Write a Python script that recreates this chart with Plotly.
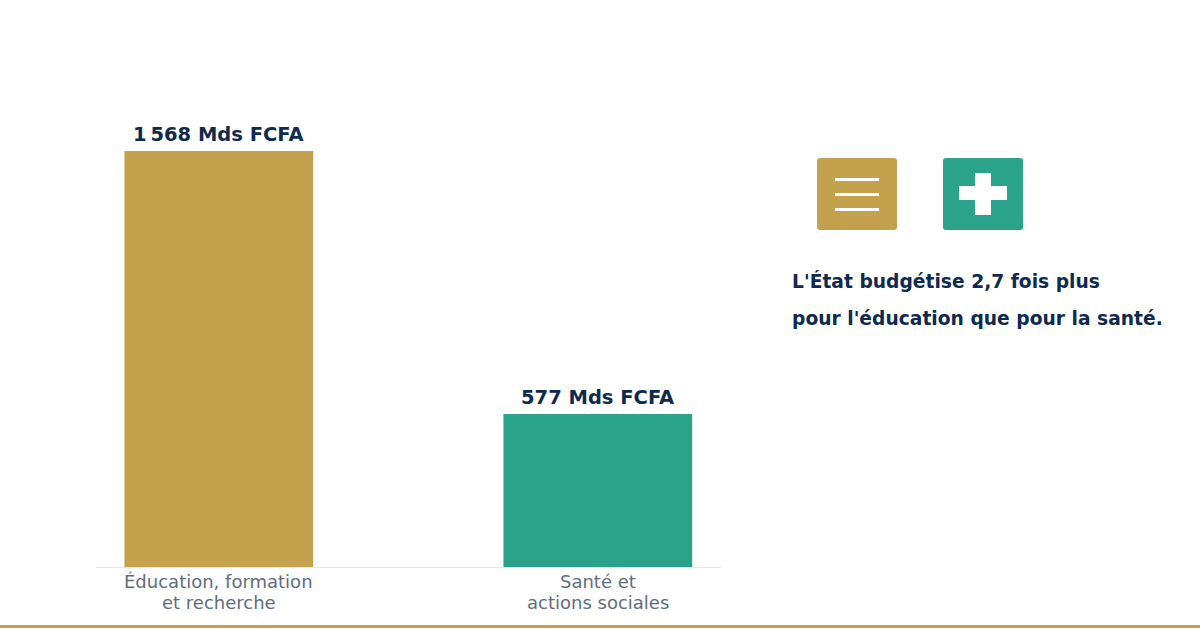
"""Education vs health budget bars with the side note and icons."""
import plotly.graph_objects as go

CATEGORY_LINES = [["Éducation, formation", "et recherche"], ["Santé et", "actions sociales"]]
VALUES = [1568, 577]
VALUE_LABELS = ["1\u2009568 Mds FCFA", "577 Mds FCFA"]
NOTE_LINES = ["L'État budgétise 2,7 fois plus", "pour l'éducation que pour la santé."]

GOLD = "#C4A24D"
TEAL = "#2BA28A"
NAVY = "#0F2A4F"
GREY = "#5F6D80"
FONT = "DejaVu Sans"

WIDTH, HEIGHT = 1200, 630
LEFT, RIGHT, TOP, BOTTOM = 96, 721, 97, 567


def px(x):
    return (x - LEFT) / (RIGHT - LEFT)


def py(y):
    return (BOTTOM - y) / (BOTTOM - TOP)


def rect(x0, y0, x1, y1, color):
    return dict(type="rect", xref="paper", yref="paper", x0=px(x0), x1=px(x1), y0=py(y1), y1=py(y0),
                fillcolor=color, line_width=0, layer="above")


def rounded(x0, y0, x1, y1, color, r=3):
    path = (
        f"M {px(x0 + r)} {py(y0)} L {px(x1 - r)} {py(y0)} Q {px(x1)} {py(y0)} {px(x1)} {py(y0 + r)} "
        f"L {px(x1)} {py(y1 - r)} Q {px(x1)} {py(y1)} {px(x1 - r)} {py(y1)} "
        f"L {px(x0 + r)} {py(y1)} Q {px(x0)} {py(y1)} {px(x0)} {py(y1 - r)} "
        f"L {px(x0)} {py(y0 + r)} Q {px(x0)} {py(y0)} {px(x0 + r)} {py(y0)} Z"
    )
    return dict(type="path", xref="paper", yref="paper", path=path, fillcolor=color, line_width=0, layer="above")


fig = go.Figure(
    go.Bar(
        x=[0, 1],
        y=VALUES,
        width=0.498,
        marker=dict(color=[GOLD, TEAL], line_width=0),
        cliponaxis=False,
    )
)

shapes = [
    # footer rule
    rect(0, 625, 1200, 628, GOLD),
    # document icon
    rounded(817, 158, 897, 230, GOLD),
    rect(835, 178, 879, 181, "white"),
    rect(835, 193, 879, 196, "white"),
    rect(835, 208, 879, 211, "white"),
    # health icon
    rounded(943, 158, 1023, 230, TEAL),
    rect(959, 186, 1007, 200, "white"),
    rect(975, 173, 991, 215, "white"),
]

# value labels sit a little higher than textposition="outside" puts them
for i, label in enumerate(VALUE_LABELS):
    fig.add_annotation(
        x=i, y=VALUES[i], text=label, showarrow=False, yanchor="bottom", yshift=3,
        font=dict(family=FONT, size=19.5, color=NAVY, weight="bold"),
    )

# category lines are placed one by one, plotly's own line spacing is too wide here
for i, lines in enumerate(CATEGORY_LINES):
    for y, line in zip([581, 602], lines):
        fig.add_annotation(
            x=i, yref="paper", y=py(y), text=line, showarrow=False, yanchor="middle",
            font=dict(family=FONT, size=18, color=GREY),
        )

for y, line in zip([281, 318], NOTE_LINES):
    fig.add_annotation(
        xref="paper", yref="paper", x=px(790), y=py(y), text=line, showarrow=False,
        xanchor="left", yanchor="middle", font=dict(family=FONT, size=18.7, color=NAVY, weight="bold"),
    )

fig.update_layout(
    width=WIDTH,
    height=HEIGHT,
    margin=dict(l=LEFT, r=WIDTH - RIGHT, t=TOP, b=HEIGHT - BOTTOM, pad=0),
    paper_bgcolor="white",
    plot_bgcolor="white",
    showlegend=False,
    shapes=shapes,
    font=dict(family=FONT),
)
fig.update_xaxes(
    range=[-0.324, 1.325], tickmode="array", tickvals=[0, 1], showticklabels=False,
    showgrid=False, zeroline=False, showline=True, linecolor="#E8E8E8", linewidth=1, ticks="",
)
fig.update_yaxes(range=[0, 1771.5], visible=False)

# page body has a default 8px margin, the reference starts at the window edge
fig.write_html("out.html", config=dict(displayModeBar=False), post_script="document.body.style.margin='0';")
